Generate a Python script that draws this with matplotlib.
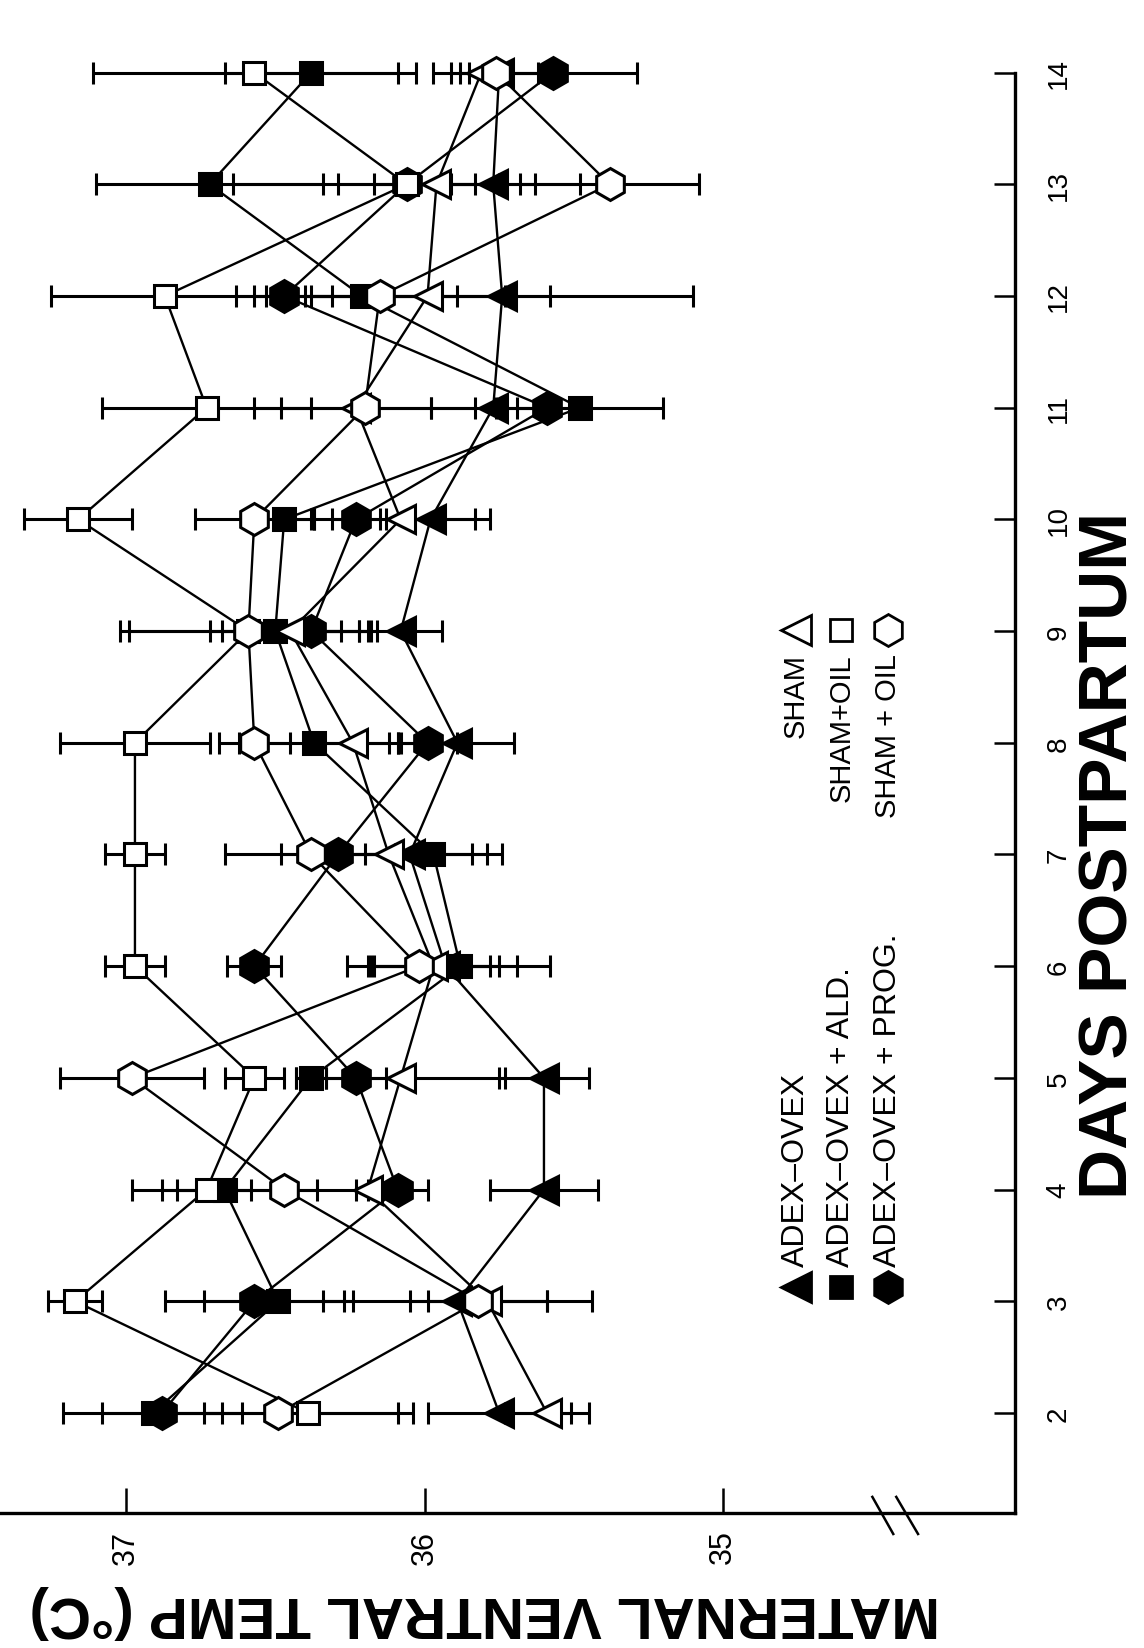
import matplotlib
matplotlib.use("Agg")
import matplotlib.pyplot as plt
from matplotlib.transforms import blended_transform_factory

# ---------------- data ----------------
days = [2, 3, 4, 5, 6, 7, 8, 9, 10, 11, 12, 13, 14]
day_labels = [str(d) for d in days]
temp_ticks = [37, 36, 35]
temp_labels = ["37", "36", "35"]

# ADEX-OVEX (filled triangle)
adex_ovex = [35.75, 35.89, 35.60, 35.60, 35.93, 36.05, 35.89, 36.08, 35.98, 35.77, 35.74, 35.77, 35.75]
adex_ovex_se = [0.24, 0.45, 0.18, 0.15, 0.24, 0.26, 0.19, 0.14, 0.15, 0.21, 0.64, 0.14, 0.13]
# ADEX-OVEX + ALD. (filled square)
adex_ald = [36.91, 36.49, 36.67, 36.38, 35.88, 35.97, 36.37, 36.50, 36.47, 35.48, 36.21, 36.72, 36.38]
adex_ald_se = [0.30, 0.25, 0.31, 0.05, 0.30, 0.23, 0.25, 0.22, 0.10, 0.28, 0.32, 0.38, 0.29]
# ADEX-OVEX + PROG. (filled hexagon)
adex_prog = [36.88, 36.57, 36.09, 36.23, 36.57, 36.29, 35.99, 36.38, 36.23, 35.59, 36.47, 36.06, 35.57]
adex_prog_se = [0.20, 0.30, 0.10, 0.10, 0.09, 0.19, 0.10, 0.20, 0.08, 0.10, 0.16, 0.23, 0.28]
# SHAM (open triangle)
sham = [35.59, 35.79, 36.19, 36.08, 35.97, 36.12, 36.24, 36.45, 36.08, 36.23, 35.99, 35.96, 35.81]
sham_se = [0.14, 0.20, 0.04, 0.35, 0.22, 0.28, 0.15, 0.23, 0.30, 0.25, 0.41, 0.21, 0.10]
# SHAM + OIL (open square)
sham_oil_sq = [36.39, 37.17, 36.73, 36.57, 36.97, 36.97, 36.97, 36.59, 37.16, 36.73, 36.87, 36.06, 36.57]
sham_oil_sq_se = [0.35, 0.09, 0.15, 0.10, 0.10, 0.10, 0.25, 0.40, 0.18, 0.35, 0.38, 0.58, 0.54]
# SHAM + OIL (open hexagon)
sham_oil_hex = [36.49, 35.82, 36.47, 36.98, 36.02, 36.38, 36.57, 36.59, 36.57, 36.20, 36.15, 35.38, 35.76]
sham_oil_hex_se = [0.40, 0.23, 0.36, 0.24, 0.24, 0.29, 0.12, 0.43, 0.20, 0.37, 0.42, 0.30, 0.21]

legend_left = ["ADEX\u2013OVEX", "ADEX\u2013OVEX + ALD.", "ADEX\u2013OVEX + PROG."]
legend_right = ["SHAM", "SHAM+OIL", "SHAM + OIL"]

# ---------------- style ----------------
plt.rcParams["font.family"] = ["Liberation Sans", "DejaVu Sans"]
K = "black"

series = [
    (adex_ovex, adex_ovex_se, "<", K, 20),
    (adex_ald, adex_ald_se, "s", K, 16.5),
    (adex_prog, adex_prog_se, "h", K, 23),
    (sham, sham_se, "<", "white", 20),
    (sham_oil_sq, sham_oil_sq_se, "s", "white", 16.5),
    (sham_oil_hex, sham_oil_hex_se, "h", "white", 23),
]

fig = plt.figure(figsize=(11.44, 16.49), dpi=100)
ax = fig.add_axes([0.0, 0.0819, 0.8873, 0.9181])
ax.set_xlim(37.422, 34.022)
ax.set_ylim(1.105, 14.659)

for temps, se, mk, face, ms in series:
    ax.errorbar(temps, days, xerr=se, fmt="none", ecolor=K, elinewidth=2.2,
                capsize=8, capthick=2.2, zorder=2)
    ax.plot(temps, days, color=K, lw=1.7, zorder=3)
for temps, se, mk, face, ms in series:
    ax.plot(temps, days, ls="none", marker=mk, ms=ms, mfc=face, mec=K, mew=2.2, zorder=4)

# spines / ticks
for s in ("top", "left"):
    ax.spines[s].set_visible(False)
ax.spines["bottom"].set_linewidth(2.4)
ax.spines["right"].set_linewidth(2.4)
ax.spines["right"].set_bounds(1.105, 14)

ax.set_xticks(temp_ticks, labels=temp_labels)
ax.tick_params(axis="x", direction="in", length=18, width=1.8, pad=12,
               labelsize=22, labelrotation=90)
ax.yaxis.tick_right()
ax.set_yticks(days, labels=day_labels)
ax.tick_params(axis="y", direction="in", length=15, width=1.8, pad=22,
               labelsize=20, labelrotation=90)
for lab in ax.get_yticklabels():
    lab.set_va("center")

ax.set_xlabel("MATERNAL VENTRAL TEMP (\u00b0C)", fontsize=42, fontweight="bold", rotation=180)
ax.xaxis.set_label_coords(0.478, -0.065)
ax.xaxis.label.set_va("center")
ax.set_ylabel("DAYS POSTPARTUM", fontsize=50, fontweight="bold", rotation=90)
ax.yaxis.set_label_position("right")
ax.yaxis.set_label_coords(1.0926, 0.435)
ax.yaxis.label.set_va("center")
ax.yaxis.label.set_ha("center")

# axis break marks
bt = blended_transform_factory(ax.transData, ax.transAxes)
for x0, x1 in ((34.50, 34.43), (34.42, 34.347)):
    ax.plot([x0, x1], [0.0106, -0.0139], color=K, lw=1.8, transform=bt, clip_on=False)

# legend (rotated like the rest of the figure)
col_x = [0.784, 0.829, 0.875]
left_mk = [("<", K, 21), ("s", K, 16.5), ("h", K, 23)]
for cx, txt, (mk, fc, ms) in zip(col_x, legend_left, left_mk):
    ax.plot([cx], [0.149], marker=mk, ms=ms, mfc=fc, mec=K, mew=2, transform=ax.transAxes,
            clip_on=False, ls="none")
    ax.text(cx, 0.163, txt, rotation=90, ha="center", va="bottom", fontsize=23,
            transform=ax.transAxes)
right_mk = [("<", "white", 21), ("s", "white", 16.5), ("h", "white", 23)]
for cx, txt, (mk, fc, ms) in zip(col_x, legend_right, right_mk):
    ax.plot([cx], [0.583], marker=mk, ms=ms, mfc=fc, mec=K, mew=2, transform=ax.transAxes,
            clip_on=False, ls="none")
    ax.text(cx, 0.568, txt, rotation=90, ha="center", va="top", fontsize=21,
            transform=ax.transAxes)

fig.savefig("out.png", dpi=100, facecolor="white")
